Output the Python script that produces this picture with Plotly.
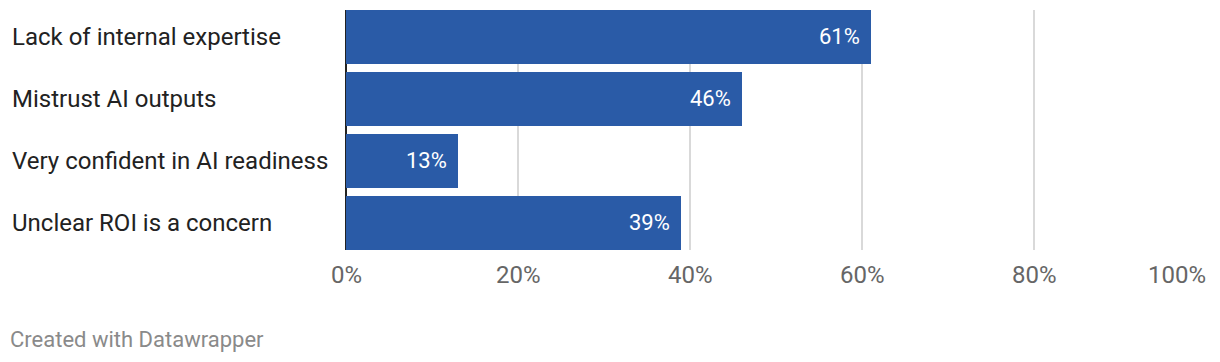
import plotly.graph_objects as go

categories = ["Lack of internal expertise", "Mistrust AI outputs",
              "Very confident in AI readiness", "Unclear ROI is a concern"]
values = [61, 46, 13, 39]
tick_values = [0, 20, 40, 60, 80, 100]
tick_labels = ["0%", "20%", "40%", "60%", "80%", "100%"]
footer_text = "Created with Datawrapper"

BAR = "#2a5ba7"
FONT = "Roboto"

fig = go.Figure()
fig.add_trace(go.Bar(
    x=values, y=categories, orientation="h",
    marker=dict(color=BAR, line=dict(width=0)),
    width=0.866, hoverinfo="skip",
))

annotations = []
for c, v in zip(categories, values):
    annotations.append(dict(x=v, y=c, xref="x", yref="y", text=f"{v}%",
                            xanchor="right", yanchor="middle", xshift=-9,
                            showarrow=False,
                            font=dict(family=FONT, size=22, color="white")))
    annotations.append(dict(x=-336 / 860, y=c, xref="paper", yref="y", text=c,
                            xanchor="left", yanchor="middle",
                            showarrow=False,
                            font=dict(family=FONT, size=24, color="#222222")))
for tv, tl in zip(tick_values, tick_labels):
    anchor = "right" if tv == tick_values[-1] else "center"
    annotations.append(dict(x=tv, y=0, xref="x", yref="paper", text=tl,
                            xanchor=anchor, yanchor="middle", yshift=-25,
                            xshift=2 if anchor == "right" else 0,
                            showarrow=False,
                            font=dict(family=FONT, size=24, color="#666666")))
annotations.append(dict(x=-338 / 860, y=-89 / 240, xref="paper", yref="paper",
                        text=footer_text, xanchor="left", yanchor="middle",
                        showarrow=False,
                        font=dict(family=FONT, size=22, color="#8a8a8a")))

fig.update_layout(
    width=1220, height=362,
    margin=dict(l=346, r=14, t=10, b=112, pad=0),
    paper_bgcolor="white", plot_bgcolor="white",
    showlegend=False,
    bargap=0,
    annotations=annotations,
    xaxis=dict(range=[0, 100], tickvals=tick_values, showticklabels=False,
               showgrid=True, gridcolor="#d9d9d9", gridwidth=2,
               zeroline=True, zerolinecolor="#222222", zerolinewidth=2,
               showline=False, ticks="", fixedrange=True),
    yaxis=dict(type="category", categoryorder="array", categoryarray=categories,
               range=[3.438, -0.433], showticklabels=False, showgrid=False,
               zeroline=False, showline=False, ticks="", fixedrange=True),
)

fig.write_html("out.html", config={"displayModeBar": False})
